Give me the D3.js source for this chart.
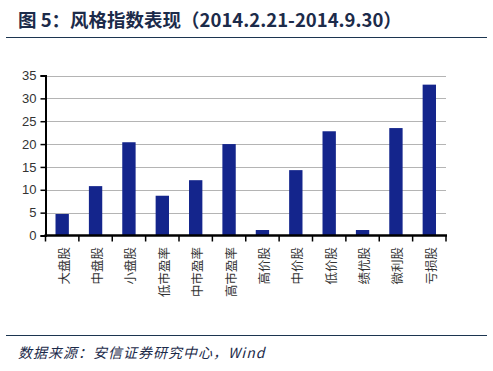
<!DOCTYPE html>
<html><head><meta charset="utf-8">
<script src="https://cdn.jsdelivr.net/npm/d3@7"></script>
<style>body{margin:0;background:#fff}svg{display:block}</style>
</head><body>
<svg id="c" width="493" height="371"></svg>
<script>
const categories = ["大盘股","中盘股","小盘股","低市盈率","中市盈率","高市盈率","高价股","中价股","低价股","绩优股","微利股","亏损股"];
const values = [4.7, 10.8, 20.4, 8.7, 12.1, 20.0, 1.2, 14.3, 22.8, 1.2, 23.5, 33.0];
const yTicks = [0,5,10,15,20,25,30,35];
const title = "图 5：风格指数表现（2014.2.21-2014.9.30）";
const source = "数据来源：安信证券研究中心，Wind";

const svg = d3.select("#c");
const m = {left:45.5, right:446, top:75.5, bottom:235.5};
const x = d3.scaleBand().domain(categories).range([m.left, m.right]).paddingInner(0.6).paddingOuter(0.3);
const xb = d3.scaleBand().domain(categories).range([m.left, m.right]);
const y = d3.scaleLinear().domain([0,35]).range([m.bottom, m.top]);

svg.append("text").attr("x",18).attr("y",27).attr("fill","#1c2b4a")
  .attr("font-family","'Noto Sans CJK SC', Arial, sans-serif").attr("font-weight","bold").attr("font-size",18.5)
  .text(title);
svg.append("line").attr("x1",6).attr("x2",487).attr("y1",37.5).attr("y2",37.5).attr("stroke","#1c3550").attr("stroke-width",1.2);
svg.append("line").attr("x1",6).attr("x2",487).attr("y1",335.5).attr("y2",335.5).attr("stroke","#1c3550").attr("stroke-width",1.2);
svg.append("text").attr("x",18).attr("y",358).attr("fill","#1c2b4a")
  .attr("font-family","'Noto Sans CJK SC', Arial, sans-serif").attr("font-style","italic").attr("font-size",14).attr("letter-spacing",1)
  .text(source);

// gridlines
svg.append("g").selectAll("line").data(yTicks.filter(d=>d>0)).join("line")
  .attr("x1",m.left).attr("x2",m.right).attr("y1",d=>Math.round(y(d))+0.5).attr("y2",d=>Math.round(y(d))+0.5)
  .attr("stroke","#b4b4b4").attr("stroke-width",1);

// bars
svg.append("g").selectAll("rect").data(values).join("rect")
  .attr("x",(d,i)=>x(categories[i])).attr("width",x.bandwidth())
  .attr("y",d=>y(d)).attr("height",d=>m.bottom-y(d)).attr("fill","#14258c");

// y axis
const ya = svg.append("g").attr("transform",`translate(${m.left},0)`)
  .call(d3.axisLeft(y).tickValues(yTicks).tickSize(5).tickPadding(4));
ya.select(".domain").attr("stroke","#000").attr("stroke-width",2);
ya.selectAll(".tick line").attr("stroke","#000").attr("stroke-width",1.5);
ya.selectAll("text").attr("font-family","Arial, 'Liberation Sans', sans-serif").attr("font-size",13).attr("fill","#333");

// x axis
const boundaries = categories.map(c=>xb(c)).concat([m.right]);
svg.append("line").attr("x1",m.left-1).attr("x2",m.right+1).attr("y1",m.bottom).attr("y2",m.bottom).attr("stroke","#000").attr("stroke-width",2.5);
svg.append("g").selectAll("line").data(boundaries).join("line")
  .attr("x1",d=>d).attr("x2",d=>d).attr("y1",m.bottom).attr("y2",m.bottom+6).attr("stroke","#000").attr("stroke-width",1.5);

// rotated labels
svg.append("g").selectAll("text").data(categories).join("text")
  .attr("font-family","'Noto Sans CJK SC', sans-serif").attr("font-size",12.5).attr("fill","#333")
  .attr("text-anchor","end").attr("dominant-baseline","central")
  .attr("transform",c=>`translate(${xb(c)+xb.bandwidth()/2+1},247) rotate(-90)`)
  .text(c=>c);
</script>
</body></html>
